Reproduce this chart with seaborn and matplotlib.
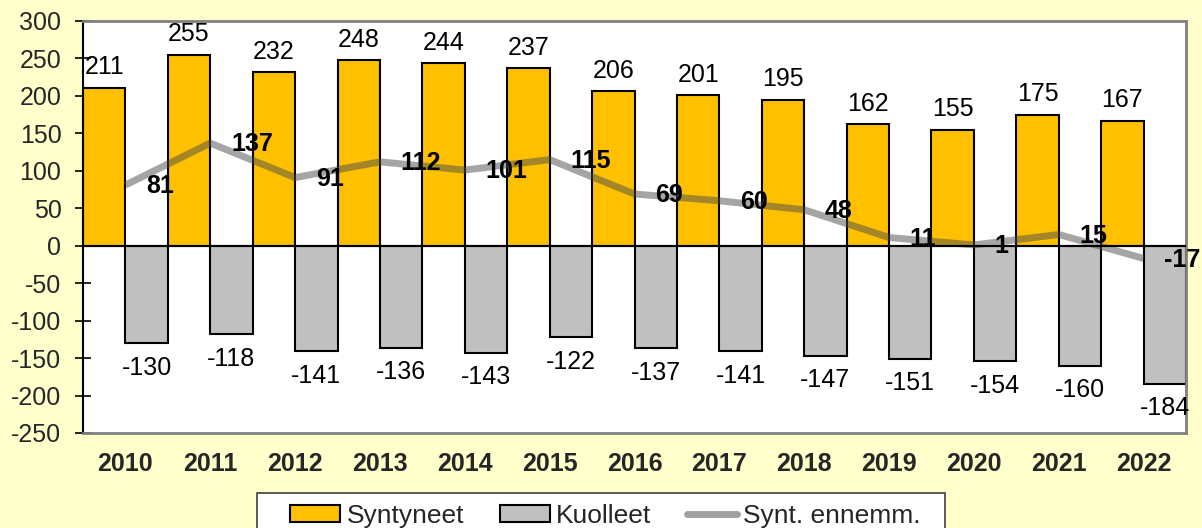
import numpy as np
import pandas as pd
import matplotlib
matplotlib.use("Agg")
import matplotlib.pyplot as plt
from matplotlib.patches import Patch, Rectangle
from matplotlib.lines import Line2D
import seaborn as sns

years = ["2010", "2011", "2012", "2013", "2014", "2015", "2016",
         "2017", "2018", "2019", "2020", "2021", "2022"]
syntyneet = [211, 255, 232, 248, 244, 237, 206, 201, 195, 162, 155, 175, 167]
kuolleet = [-130, -118, -141, -136, -143, -122, -137, -141, -147, -151, -154, -160, -184]
ennemm = [81, 137, 91, 112, 101, 115, 69, 60, 48, 11, 1, 15, -17]
series_names = ["Syntyneet", "Kuolleet", "Synt. ennemm."]
y_ticks = list(range(-250, 301, 50))

sns.set_theme(style="white")
plt.rcParams["font.family"] = ["Liberation Sans", "DejaVu Sans"]

FS = 18
W, H = 1202, 528
yellow = "#FFC000"
gray = "#C0C0C0"
line_col = "#4D4D4D"

df = pd.DataFrame({
    "year": years * 2,
    "value": syntyneet + kuolleet,
    "series": [series_names[0]] * len(years) + [series_names[1]] * len(years),
})

fig = plt.figure(figsize=(W / 100, H / 100), dpi=100, facecolor="#FFFFCC")
ax = fig.add_axes([83 / W, 1 - 433 / H, (1186 - 83) / W, (433 - 21) / H])
ax.set_facecolor("white")

sns.barplot(data=df, x="year", y="value", hue="series", order=years,
            hue_order=series_names[:2], palette=[yellow, gray],
            width=1.0, edgecolor="black", linewidth=1.5, saturation=1,
            legend=False, ax=ax, zorder=2)

ax.bar_label(ax.containers[0], fmt="%d", padding=6, fontsize=FS, color="black")
ax.bar_label(ax.containers[1], fmt="%d", padding=9, fontsize=FS, color="black")

xs = np.arange(len(years))
ax.plot(xs, ennemm, color=line_col, alpha=0.5, lw=5, solid_capstyle="butt",
        solid_joinstyle="miter", zorder=3)
for x, v in zip(xs, ennemm):
    ax.annotate(f"{v}", (x, v), xytext=(15, -1), textcoords="offset points",
                ha="left", va="center", fontsize=FS, fontweight="bold",
                color="black", zorder=5, annotation_clip=False)

ax.axhline(0, color="black", lw=1.5, zorder=4)

ax.set_xlim(-0.5, len(years) - 0.5)
ax.set_ylim(-250, 300)
ax.set_yticks(y_ticks)
ax.set_yticklabels([str(t) for t in y_ticks], fontsize=FS)
ax.set_xticks(xs)
ax.set_xticklabels(years, fontsize=FS, fontweight="bold")
ax.tick_params(axis="y", direction="inout", length=11, width=1.2, color="black", pad=10, left=True)
ax.tick_params(axis="x", length=0, pad=14)
ax.set_xlabel("")
ax.set_ylabel("")

for side in ["top", "right", "bottom"]:
    ax.spines[side].set_color("#808080")
    ax.spines[side].set_linewidth(2)
ax.spines["left"].set_color("black")
ax.spines["left"].set_linewidth(1.5)

# legend frame box (partly cut off at the bottom edge as in the reference)
fig.patches.append(Rectangle((257 / W, -0.05), (945 - 257) / W, (1 - 493 / H) + 0.05,
                             transform=fig.transFigure, facecolor="white",
                             edgecolor="#404040", linewidth=1.2, zorder=0))

handles = [
    Patch(facecolor=yellow, edgecolor="black", linewidth=1.5),
    Patch(facecolor=gray, edgecolor="black", linewidth=1.5),
    Line2D([0], [0], color="#A0A0A0", lw=5, solid_capstyle="round"),
]
leg = fig.legend(handles, series_names, loc="center",
                 bbox_to_anchor=(605.5 / W, 1 - 516 / H), ncol=3,
                 fontsize=19, frameon=False, handlelength=1.9,
                 handleheight=0.6, handletextpad=0.23,
                 columnspacing=1.36, borderpad=0, borderaxespad=0)
leg.set_zorder(5)

fig.savefig("out.png", dpi=100, facecolor=fig.get_facecolor())
